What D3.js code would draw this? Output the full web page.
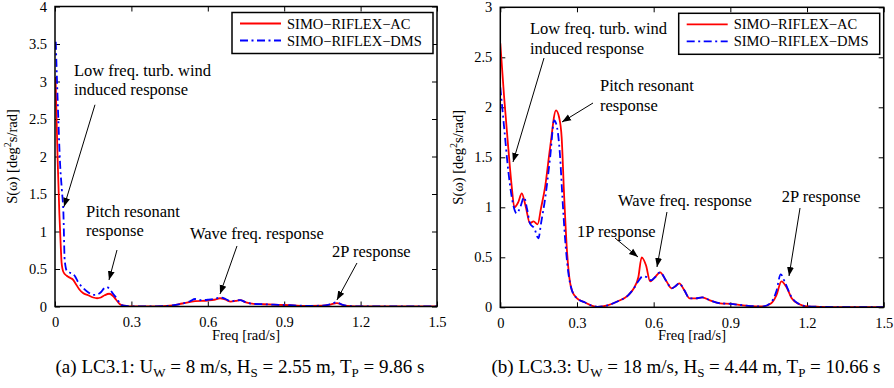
<!DOCTYPE html>
<html><head><meta charset="utf-8">
<script src="https://cdn.jsdelivr.net/npm/d3@7"></script>
<style>body{margin:0;background:#fff}svg{display:block}text{font-family:"Liberation Serif","Times New Roman",serif;fill:#000}</style>
</head><body><svg id="c" width="894" height="388"></svg>
<script>
// ---------- data ----------
const xTicks = [0, 0.3, 0.6, 0.9, 1.2, 1.5];
const xTickLabels = ["0", "0.3", "0.6", "0.9", "1.2", "1.5"];
const yTicksA = [0, 0.5, 1, 1.5, 2, 2.5, 3, 3.5, 4];
const yTicksB = [0, 0.5, 1, 1.5, 2, 2.5, 3];
const seriesNames = ["SIMO\u2212RIFLEX\u2212AC", "SIMO\u2212RIFLEX\u2212DMS"];

// panel (a) LC3.1
const freqA_AC = [0.002,0.01,0.017,0.022,0.026,0.033,0.046,0.06,0.07,0.08,0.095,0.11,0.13,0.15,0.165,0.18,0.195,0.213,0.228,0.24,0.255,0.27,0.29,0.33,0.40,0.45,0.50,0.55,0.60,0.625,0.648,0.67,0.69,0.71,0.727,0.75,0.78,0.82,0.86,0.90,0.95,1.00,1.05,1.08,1.107,1.13,1.16,1.20,1.30,1.40,1.50];
const acA = [3.06,2.0,1.25,0.85,0.58,0.46,0.41,0.38,0.36,0.31,0.23,0.18,0.15,0.12,0.11,0.12,0.15,0.17,0.14,0.09,0.03,0.01,0.003,0.002,0.002,0.01,0.04,0.072,0.08,0.09,0.11,0.09,0.065,0.075,0.085,0.055,0.035,0.03,0.025,0.02,0.012,0.008,0.01,0.025,0.045,0.02,0.005,0.002,0.002,0.002,0.002];
const freqA_DMS = [0.003,0.012,0.02,0.027,0.033,0.038,0.047,0.059,0.07,0.079,0.09,0.11,0.13,0.15,0.165,0.18,0.192,0.203,0.215,0.228,0.242,0.255,0.27,0.29,0.33,0.40,0.45,0.50,0.53,0.55,0.575,0.60,0.625,0.648,0.67,0.69,0.71,0.727,0.75,0.78,0.82,0.86,0.90,0.95,1.00,1.05,1.08,1.105,1.13,1.16,1.20,1.30,1.40,1.50];
const dmsA = [3.53,2.6,1.9,1.55,1.25,0.62,0.47,0.45,0.44,0.40,0.33,0.25,0.19,0.155,0.16,0.19,0.24,0.26,0.23,0.17,0.11,0.04,0.01,0.003,0.002,0.002,0.01,0.04,0.07,0.1,0.085,0.09,0.1,0.12,0.1,0.07,0.08,0.085,0.055,0.035,0.03,0.025,0.02,0.012,0.008,0.012,0.03,0.055,0.022,0.005,0.002,0.002,0.002,0.002];

// panel (b) LC3.3
const freqB_AC = [0.0,0.015,0.031,0.045,0.055,0.07,0.084,0.1,0.116,0.13,0.146,0.16,0.175,0.195,0.218,0.23,0.24,0.25,0.26,0.27,0.28,0.30,0.33,0.36,0.38,0.42,0.46,0.50,0.52,0.54,0.553,0.57,0.586,0.605,0.625,0.65,0.67,0.685,0.70,0.72,0.74,0.765,0.79,0.82,0.86,0.90,0.95,1.00,1.03,1.06,1.08,1.1,1.12,1.14,1.17,1.2,1.25,1.3,1.4,1.5];
const acB = [2.64,2.1,1.6,1.2,1.0,1.05,1.14,1.0,0.84,0.86,0.83,1.0,1.2,1.6,1.97,1.9,1.7,1.1,0.6,0.3,0.17,0.09,0.05,0.015,0.005,0.02,0.06,0.12,0.18,0.3,0.5,0.42,0.26,0.3,0.35,0.26,0.19,0.21,0.24,0.17,0.09,0.09,0.1,0.07,0.04,0.035,0.02,0.01,0.01,0.04,0.12,0.26,0.2,0.09,0.03,0.01,0.005,0.002,0.002,0.002];
const freqB_DMS = [0.0,0.015,0.031,0.045,0.064,0.078,0.093,0.105,0.116,0.133,0.149,0.16,0.175,0.195,0.211,0.222,0.233,0.243,0.253,0.265,0.28,0.30,0.33,0.36,0.38,0.42,0.46,0.50,0.52,0.54,0.557,0.575,0.59,0.605,0.625,0.65,0.67,0.685,0.70,0.72,0.74,0.765,0.79,0.82,0.86,0.90,0.95,1.00,1.03,1.06,1.08,1.097,1.115,1.14,1.17,1.2,1.25,1.3,1.4,1.5];
const dmsB = [2.2,1.8,1.37,1.1,0.94,1.0,1.1,0.98,0.84,0.79,0.69,0.85,1.08,1.5,1.87,1.8,1.54,1.1,0.7,0.37,0.17,0.09,0.05,0.015,0.005,0.02,0.06,0.12,0.18,0.26,0.31,0.3,0.27,0.3,0.35,0.26,0.19,0.21,0.24,0.17,0.09,0.09,0.1,0.07,0.04,0.035,0.02,0.01,0.01,0.05,0.16,0.33,0.24,0.1,0.03,0.01,0.005,0.002,0.002,0.002];

// annotations: text anchor (freq, S) and arrow from (freq,S) to (freq,S)
const annA = [
  {lines:["Low freq. turb. wind","induced response"], tx:0.0746, ty:3.08, ax1:0.157, ay1:2.69, ax2:0.0353, ay2:1.33},
  {lines:["Pitch resonant","response"], tx:0.1217, ty:1.20, ax1:0.2434, ay1:0.753, ax2:0.212, ay2:0.353},
  {lines:["Wave freq. response"], tx:0.530, ty:0.905, ax1:0.7146, ay1:0.807, ax2:0.648, ay2:0.167},
  {lines:["2P response"], tx:1.0877, ty:0.66, ax1:1.1858, ay1:0.58, ax2:1.107, ay2:0.087}
];
const annB = [
  {lines:["Low freq. turb. wind","induced response"], tx:0.1162, ty:2.73, ax1:0.171, ay1:2.493, ax2:0.0497, ay2:1.453},
  {lines:["Pitch resonant","response"], tx:0.39, ty:2.16, ax1:0.3627, ay1:2.043, ax2:0.2414, ay2:1.853},
  {lines:["Wave freq. response"], tx:0.4605, ty:1.015, ax1:0.652, ay1:0.953, ax2:0.613, ay2:0.403},
  {lines:["2P response"], tx:1.1013, ty:1.057, ax1:1.1726, ay1:0.993, ax2:1.1296, ay2:0.313},
  {lines:["1P response"], tx:0.30, ty:0.707, ax1:0.4487, ay1:0.693, ax2:0.5387, ay2:0.503}
];

const captionA = [["(a) LC3.1: U",0],["W",1],[" = 8 m/s, H",0],["S",1],[" = 2.55 m, T",0],["P",1],[" = 9.86 s",0]];
const captionB = [["(b) LC3.3: U",0],["W",1],[" = 18 m/s, H",0],["S",1],[" = 4.44 m, T",0],["P",1],[" = 10.66 s",0]];

// ---------- drawing ----------
const svg = d3.select("#c");
const defs = svg.append("defs");
defs.append("marker").attr("id","arr").attr("viewBox","0 0 10 10").attr("refX",10).attr("refY",5)
  .attr("markerWidth",9).attr("markerHeight",9).attr("markerUnits","userSpaceOnUse").attr("orient","auto")
  .append("path").attr("d","M0,1.2 L10,5 L0,8.8 Z").attr("fill","#000");

function panel(cfg){
  const g = svg.append("g");
  const x = d3.scaleLinear().domain([0,1.5]).range([cfg.left, cfg.right]);
  const y = d3.scaleLinear().domain([0,cfg.ymax]).range([cfg.bottom, cfg.top]);
  const clipId = "clip"+cfg.id;
  defs.append("clipPath").attr("id",clipId).append("rect")
    .attr("x",cfg.left).attr("y",cfg.top).attr("width",cfg.right-cfg.left).attr("height",cfg.bottom-cfg.top);

  const fmt = d => d3.format("~g")(d);
  g.append("g").attr("transform",`translate(0,${cfg.bottom})`)
    .call(d3.axisBottom(x).tickValues(xTicks).tickFormat((d,i)=>xTickLabels[i]).tickSizeInner(-5).tickSizeOuter(0).tickPadding(10));
  g.append("g").attr("transform",`translate(0,${cfg.top})`)
    .call(d3.axisTop(x).tickValues(xTicks).tickFormat("").tickSizeInner(-5).tickSizeOuter(0));
  g.append("g").attr("transform",`translate(${cfg.left},0)`)
    .call(d3.axisLeft(y).tickValues(cfg.yticks).tickFormat(fmt).tickSizeInner(-5).tickSizeOuter(0).tickPadding(8));
  g.append("g").attr("transform",`translate(${cfg.right},0)`)
    .call(d3.axisRight(y).tickValues(cfg.yticks).tickFormat("").tickSizeInner(-5).tickSizeOuter(0));
  g.selectAll(".domain").remove();
  g.selectAll(".tick line").attr("stroke","#000").attr("stroke-width",1);
  g.selectAll(".tick text").attr("font-family","Liberation Serif").attr("font-size","14.5px").attr("fill","#000");

  const line = d3.line().x(d=>x(d[0])).y(d=>y(d[1])).curve(d3.curveMonotoneX);
  const lg = g.append("g").attr("clip-path",`url(#${clipId})`);
  lg.append("path").datum(d3.zip(cfg.fAC,cfg.vAC)).attr("d",line)
    .attr("fill","none").attr("stroke","#ff0000").attr("stroke-width",1.8);
  lg.append("path").datum(d3.zip(cfg.fDMS,cfg.vDMS)).attr("d",line)
    .attr("fill","none").attr("stroke","#0000ff").attr("stroke-width",1.8).attr("stroke-dasharray","8,3.5,2,3.5");

  g.append("rect").attr("x",cfg.left).attr("y",cfg.top).attr("width",cfg.right-cfg.left).attr("height",cfg.bottom-cfg.top)
    .attr("fill","none").attr("stroke","#000").attr("stroke-width",1.5);

  cfg.ann.forEach(a=>{
    const t = g.append("text").attr("x",x(a.tx)).attr("y",y(a.ty)).attr("font-size","16.5px");
    a.lines.forEach((s,i)=>t.append("tspan").attr("x",x(a.tx)).attr("dy",i?19.5:0).text(s));
    g.append("line").attr("x1",x(a.ax1)).attr("y1",y(a.ay1)).attr("x2",x(a.ax2)).attr("y2",y(a.ay2))
      .attr("stroke","#000").attr("stroke-width",1).attr("marker-end","url(#arr)");
  });

  const L = cfg.right - 205, T = cfg.top + 6;
  const leg = g.append("g");
  leg.append("rect").attr("x",L).attr("y",T).attr("width",201).attr("height",41)
    .attr("fill","#fff").attr("stroke","#000").attr("stroke-width",1.5);
  [["#ff0000",null],["#0000ff","8,3.5,2,3.5"]].forEach((s,i)=>{
    const yy = T + 11 + i*17;
    leg.append("line").attr("x1",L+8).attr("x2",L+49).attr("y1",yy).attr("y2",yy)
      .attr("stroke",s[0]).attr("stroke-width",1.8).attr("stroke-dasharray",s[1]);
    leg.append("text").attr("x",L+55).attr("y",yy+5).attr("font-size","14.5px").text(seriesNames[i]);
  });

  g.append("text").attr("x",(cfg.left+cfg.right)/2).attr("y",cfg.bottom+33).attr("text-anchor","middle")
    .attr("font-size","14.5px").text("Freq [rad/s]");
  const yl = g.append("text").attr("transform",`translate(${cfg.ylx},${(cfg.top+cfg.bottom)/2}) rotate(-90)`)
    .attr("text-anchor","middle").attr("font-size","14.5px");
  yl.append("tspan").text("S(\u03c9) [deg");
  yl.append("tspan").attr("font-size","10px").attr("dy",-6).text("2");
  yl.append("tspan").attr("dy",6).text("s/rad]");

  const cap = g.append("text").attr("x",(cfg.left+cfg.right)/2 - 6).attr("y",373).attr("text-anchor","middle").attr("font-size","19px");
  cfg.caption.forEach((p,i)=>{
    const ts = cap.append("tspan").text(p[0]);
    if(p[1]) ts.attr("font-size","13px").attr("dy",4);
    else if(i>0) ts.attr("dy",-4);
  });
}

panel({id:"A",left:55,right:437,top:6.5,bottom:306.5,ymax:4,yticks:yTicksA,ylx:17,
  fAC:freqA_AC,vAC:acA,fDMS:freqA_DMS,vDMS:dmsA,ann:annA,caption:captionA});
panel({id:"B",left:500.3,right:883.7,top:7.3,bottom:307.3,ymax:3,yticks:yTicksB,ylx:463,
  fAC:freqB_AC,vAC:acB,fDMS:freqB_DMS,vDMS:dmsB,ann:annB,caption:captionB});
</script></body></html>
